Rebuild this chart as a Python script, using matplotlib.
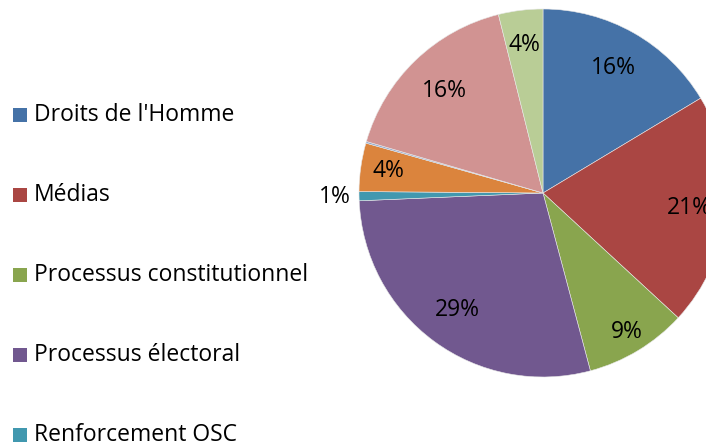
import numpy as np
import matplotlib.pyplot as plt
from matplotlib.patches import Rectangle

plt.rcParams['font.family'] = ['Open Sans', 'DejaVu Sans']

# Parts of the pie, clockwise from 12 o'clock
categories = ["Droits de l'Homme", "Médias", "Processus constitutionnel",
              "Processus électoral", "Renforcement OSC", "Autre",
              "Divers", "Gouvernance", "Société civile"]
values = [16.4, 20.5, 9.0, 28.5, 0.8, 4.25, 0.15, 16.6, 3.9]
labels = ["16%", "21%", "9%", "29%", "1%", "4%", "", "16%", "4%"]

colors = ["#4572A7", "#AA4643", "#89A54E", "#71588F", "#4198AF",
          "#DB843D", "#93A9CF", "#D19392", "#B9CD96"]
label_dist = [0.78, 0.80, 0.88, 0.79, 1.13, 0.85, 0.8, 0.77, 0.81]

W, H = 706, 446
fig = plt.figure(figsize=(W / 100, H / 100), dpi=100)

# pie: centre (543,193) px, radius 184 px
cx, cy, r = 543, 193, 184
ax = fig.add_axes([(cx - r) / W, (H - cy - r) / H, 2 * r / W, 2 * r / H])
wedges, _ = ax.pie(values, colors=colors, startangle=90, counterclock=False,
                   radius=1, wedgeprops=dict(edgecolor='#e8e8e8', linewidth=0.4))
ax.set_xlim(-1, 1)
ax.set_ylim(-1, 1)
ax.set_aspect('equal')
ax.axis('off')

for w, lab, d in zip(wedges, labels, label_dist):
    if not lab:
        continue
    ang = np.deg2rad((w.theta1 + w.theta2) / 2)
    ax.text(d * np.cos(ang), d * np.sin(ang), lab, ha='center', va='center',
            fontsize=16.5, color='black', clip_on=False)

# legend, only the top of it fits in the picture
for i, (name, c) in enumerate(zip(categories, colors)):
    y = 115 + 80 * i
    fig.patches.append(Rectangle((13 / W, (H - y - 7) / H), 14 / W, 14 / H,
                                 transform=fig.transFigure, facecolor=c,
                                 edgecolor='none'))
    fig.text(34 / W, (H - y) / H, name, ha='left', va='center',
             fontsize=16.5, color='black')

fig.savefig('out.png', dpi=100)
